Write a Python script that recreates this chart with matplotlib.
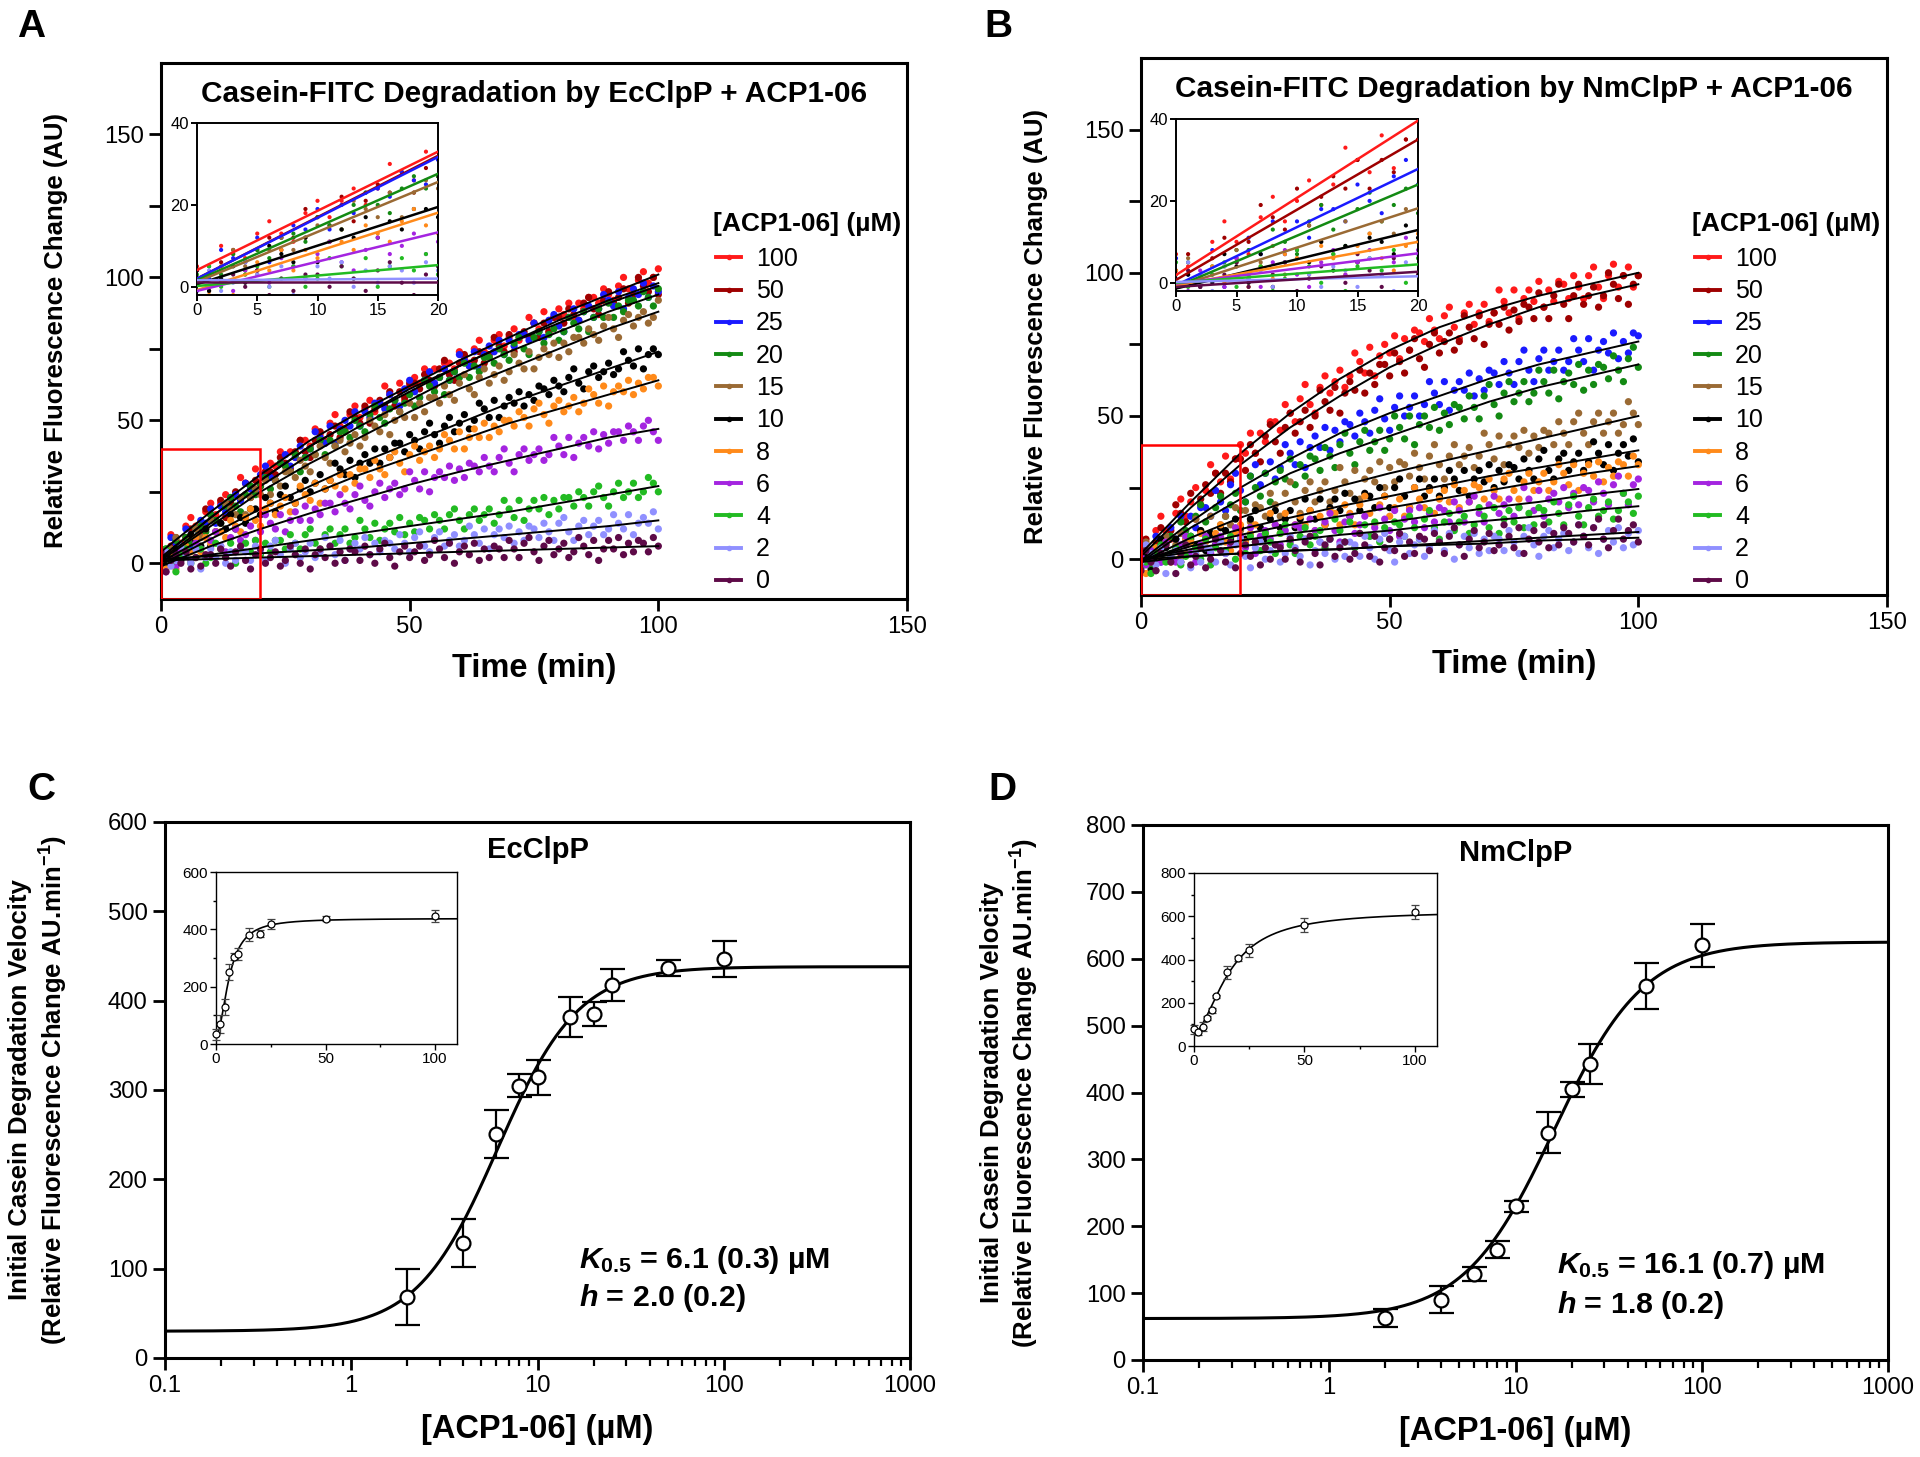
import os
import numpy as np
import matplotlib
matplotlib.use("Agg")
import matplotlib.pyplot as plt
from matplotlib.patches import Rectangle
from matplotlib.lines import Line2D
from matplotlib.ticker import FixedLocator, NullFormatter
from matplotlib import font_manager
from matplotlib.font_manager import FontProperties

plt.rcParams['font.family'] = ['Liberation Sans', 'DejaVu Sans']


def find_narrow():
    for fam, stretch in [('Liberation Sans Narrow', 'normal'), ('Liberation Sans', 'condensed'),
                         ('Liberation Sans', 'semi-condensed')]:
        try:
            p = font_manager.findfont(FontProperties(family=fam, stretch=stretch, weight='bold'),
                                      fallback_to_default=False)
        except Exception:
            continue
        name = os.path.basename(p).lower()
        if 'narrow' in name or 'condensed' in name:
            return fam, stretch
    return None


narrow = find_narrow()
if narrow:
    NFAM, NSTRETCH, NSCALE = narrow[0], narrow[1], 1.0
else:
    NFAM, NSTRETCH, NSCALE = 'Liberation Sans', 'normal', 0.84


def nfont(size, weight='bold'):
    return FontProperties(family=NFAM, stretch=NSTRETCH, weight=weight, size=size * NSCALE)


plt.rcParams['mathtext.fontset'] = 'custom'
plt.rcParams['mathtext.rm'] = '%s:weight=bold:stretch=%s' % (NFAM, NSTRETCH)
plt.rcParams['mathtext.it'] = '%s:style=italic:weight=bold:stretch=%s' % (NFAM, NSTRETCH)
plt.rcParams['mathtext.bf'] = '%s:weight=bold:stretch=%s' % (NFAM, NSTRETCH)

# ---- data: time courses (A: EcClpP, B: NmClpP) ----
time = list(range(0, 101))
fit_time = [0, 10, 20, 30, 40, 50, 60, 70, 80, 90, 100]
conc_labels = ['100', '50', '25', '20', '15', '10', '8', '6', '4', '2', '0']
colors = ['#ff1a1a', '#9e0000', '#1a1aff', '#138a13', '#9a6a34', '#000000',
          '#ff8a1a', '#a424e0', '#22bb22', '#9090ff', '#5e0a48']

ec_100 = [5,3,10,8,7,13,16,13,11,18, 21,17,21,24,20,24,30,28,26,33, 27,32,35,34,39,34,39,37,43,43, 41,47,45,43,49,52,48,46,52,55, 51,54,57,53,56,62,59,57,63,57, 62,65,63,68,63,68,65,70,70,68, 74,72,70,75,78,74,72,78,80,76, 79,82,78,80,86,84,82,88,81,86, 89,87,91,86,91,89,93,93,91,96, 94,92,97,100,96,94,99,102,98,100,103]
ec_50 = [1,-1,6,9,6,9,12,9,12,19, 17,15,22,16,21,25,23,28,23,29, 27,32,32,31,37,35,33,39,43,39, 37,43,46,42,45,48,44,47,53,51, 49,55,49,54,57,55,60,55,60,58, 63,63,61,66,64,62,68,71,66,64, 70,73,69,71,74,70,73,79,76,74, 80,74,79,81,79,84,79,84,81,86, 86,84,89,87,85,91,93,89,87,92, 95,91,93,96,91,94,100,97,95,100,94]
ec_25 = [-1,2,9,7,6,12,6,12,15,14, 19,14,20,18,23,24,22,28,26,25, 31,34,30,29,35,38,34,37,41,37, 40,46,44,42,48,42,47,50,48,53, 48,53,51,56,56,54,59,57,55,61, 64,60,58,64,67,63,65,68,64,67, 73,71,69,74,68,73,76,74,78,73, 78,76,80,80,78,84,81,79,85,87, 83,81,86,89,85,88,90,86,89,94, 92,90,95,89,93,96,94,98,93,97,95]
ec_20 = [2,5,3,8,4,9,7,12,13,11, 17,15,14,20,23,20,18,24,27,24, 27,30,26,29,35,34,32,38,32,37, 40,38,43,38,43,41,46,46,44,50, 48,46,52,55,51,49,54,57,53,56, 59,55,58,64,62,60,65,59,64,67, 65,70,65,69,67,72,72,70,75,73, 71,77,79,75,73,79,81,77,80,82, 78,81,86,84,82,88,81,86,89,86, 91,86,90,88,92,92,90,95,93,90,96]
ec_15 = [1,-1,5,9,5,3,9,12,9,12, 15,11,14,21,19,17,23,17,23,26, 24,29,24,29,27,32,32,30,36,34, 32,38,41,37,35,41,43,39,42,45, 41,44,50,48,46,52,45,50,53,51, 56,51,56,53,58,58,56,62,59,57, 63,66,61,59,65,68,63,66,69,64, 67,73,70,68,74,68,72,75,73,77, 72,77,74,79,79,77,82,80,78,83, 86,82,79,85,87,83,86,88,84,86,92]
ec_10 = [4,-1,2,5,1,4,10,8,6,12, 6,11,14,12,17,12,16,14,19,19, 17,23,21,18,24,27,23,21,26,29, 25,28,31,26,29,35,33,31,36,30, 35,38,35,40,35,40,37,42,42,39, 45,43,40,46,49,45,42,48,51,46, 49,52,47,50,56,54,51,57,51,55, 58,56,60,55,59,57,62,61,59,64, 62,60,65,68,63,61,67,69,65,67, 70,66,68,74,71,69,75,68,73,75,73]
ec_8 = [1,-2,4,-2,3,6,4,9,4,9, 7,11,11,9,15,13,11,16,19,15, 13,19,21,17,20,23,18,21,27,24, 22,28,21,26,29,27,31,26,31,28, 33,33,30,36,33,31,37,39,35,32, 38,41,36,39,41,37,40,45,43,40, 46,40,44,47,44,49,44,48,46,50, 50,48,53,51,48,54,56,52,49,55, 57,53,55,58,53,56,61,59,56,62, 55,60,62,60,64,59,63,61,65,65,62]
ec_6 = [2,-3,1,-1,4,4,1,7,5,2, 8,11,6,4,9,12,8,10,13,8, 11,17,14,12,17,11,15,18,15,20, 15,19,17,21,21,18,24,21,19,24, 27,22,20,25,28,23,26,28,24,26, 32,29,26,32,25,30,32,30,34,29, 33,30,35,34,32,37,34,32,37,40, 35,32,38,40,36,38,40,36,38,44, 41,38,44,37,42,44,41,46,40,45, 42,46,46,43,48,46,43,48,50,46,43]
ec_4 = [3,5,0,-3,3,5,0,2,5,0, 2,7,5,2,7,0,5,7,4,8, 3,7,4,8,8,5,10,7,5,10, 12,7,5,10,12,7,10,12,7,9, 15,12,9,14,8,12,14,11,16,10, 14,11,16,15,12,17,15,12,17,19, 15,12,17,19,15,17,19,14,17,22, 19,16,22,15,19,22,19,23,17,22, 19,23,23,20,25,23,20,25,27,23, 20,25,28,23,25,28,23,25,30,28,25]
ec_2 = [2,4,-1,1,6,3,0,5,-2,2, 5,2,6,0,4,1,5,4,1,6, 4,1,6,8,3,0,5,7,2,4, 7,2,4,9,6,3,8,1,5,7, 5,9,3,7,4,8,7,5,10,7, 4,9,11,6,4,9,11,6,8,10, 6,8,13,10,7,12,5,10,12,9, 13,7,11,8,13,12,9,14,11,8, 14,16,11,8,13,15,10,13,15,10, 12,17,14,12,17,10,14,16,14,18,12]
ec_0 = [4,-3,1,3,0,4,-2,2,-1,3, 3,0,5,2,-1,4,6,1,-2,3, 5,0,2,4,-1,1,6,3,0,5, -2,3,5,2,6,0,4,1,5,4, 1,6,3,0,5,7,2,-1,4,6, 2,4,6,1,3,8,5,2,7,0, 4,6,3,7,1,5,2,6,5,2, 8,5,2,7,9,4,1,6,8,3, 5,7,2,4,9,6,3,8,1,5, 8,5,9,3,7,4,8,7,4,9,6]

nm_100 = [7,4,1,10,15,10,7,16,21,15, 20,25,19,24,33,30,27,36,28,35, 40,37,44,37,44,41,48,48,45,54, 51,48,56,61,54,51,60,64,58,62, 66,60,64,72,69,65,74,64,71,75, 72,78,70,77,73,80,79,76,84,80, 77,85,88,81,77,86,89,82,86,89, 83,86,94,90,86,94,84,91,94,90, 97,88,94,90,97,96,91,99,95,91, 99,102,95,91,99,103,95,99,102,95,99]
nm_50 = [3,7,1,6,11,5,10,19,16,13, 23,14,21,26,23,30,23,30,27,35, 35,31,40,37,34,43,47,41,37,46, 51,44,48,52,46,50,59,55,52,60, 51,58,62,59,66,58,65,61,68,68, 64,72,69,65,73,77,70,67,75,79, 72,76,79,73,76,85,81,77,85,75, 82,86,82,88,80,87,83,89,88,84, 93,88,84,92,96,89,84,92,96,89, 92,95,88,92,100,96,91,99,89,96,99]
nm_25 = [6,2,-1,8,-1,6,11,7,15,7, 15,11,18,18,15,24,20,17,26,30, 24,20,29,33,26,30,34,28,32,40, 37,33,41,32,39,43,39,46,38,45, 41,48,47,43,51,48,44,52,56,49, 45,53,57,50,53,57,50,54,62,58, 54,62,52,59,62,59,65,57,63,59, 66,65,61,69,65,61,69,73,66,62, 70,73,66,69,73,66,69,77,73,69, 77,66,73,76,72,79,70,76,72,79,78]
nm_20 = [-3,5,-3,4,1,8,8,4,13,10, 7,15,19,13,9,18,22,15,19,23, 17,20,29,25,22,30,20,27,31,28, 35,26,33,29,36,35,31,39,36,32, 40,44,37,33,41,45,38,41,45,38, 42,50,46,42,50,40,47,50,46,53, 45,51,47,54,53,49,57,53,49,57, 61,54,50,58,62,55,58,62,55,58, 66,62,58,66,56,62,65,61,68,59, 66,61,68,67,63,71,66,62,70,74,67]
nm_15 = [2,6,-1,-4,4,8,1,5,9,2, 6,14,10,7,15,5,12,15,12,18, 10,17,13,19,18,15,23,19,15,23, 27,20,16,24,27,20,24,27,20,24, 32,27,23,31,21,28,31,27,34,25, 32,27,34,33,29,37,32,28,36,40, 33,28,36,40,33,36,39,32,36,44, 40,35,43,33,40,43,39,45,37,43, 39,45,44,40,48,44,40,48,51,44, 40,48,51,44,48,51,44,47,55,51,47]
nm_10 = [-1,2,-4,0,7,4,0,7,-1,5, 8,5,10,3,9,5,11,10,7,14, 11,7,14,17,11,7,14,17,11,14, 17,11,14,21,17,14,21,12,18,21, 17,23,15,21,17,23,22,18,25,22, 18,25,28,22,18,25,28,22,25,28, 22,25,31,28,24,31,22,28,31,27, 33,25,31,27,33,32,28,35,31,28, 35,38,31,28,35,37,31,34,37,31, 34,41,37,33,40,31,37,40,36,42,34]
nm_8 = [3,-5,1,4,0,6,-1,4,1,7, 6,2,9,6,2,9,12,6,3,9, 12,6,9,12,6,9,16,12,9,16, 7,12,15,12,17,10,15,12,17,16, 12,19,16,12,19,22,16,12,19,22, 15,18,21,15,18,25,21,18,24,16, 21,24,20,26,18,24,20,26,25,21, 28,24,21,28,30,24,21,27,30,24, 27,30,24,27,33,30,26,33,24,30, 33,29,34,27,32,29,34,33,29,36,33]
nm_6 = [1,-2,3,2,-1,6,2,-1,5,8, 2,-1,5,8,2,5,8,2,5,11, 8,4,11,2,8,10,7,12,5,10, 6,12,11,7,14,10,6,13,16,10, 6,13,15,9,12,15,8,11,18,14, 10,17,8,14,17,13,18,11,16,13, 18,17,13,20,17,13,20,22,16,13, 19,22,16,19,21,15,18,25,21,17, 24,15,21,23,20,25,18,23,19,25, 24,20,27,23,19,26,29,23,19,26,28]
nm_4 = [5,-1,-5,2,5,-1,2,4,-2,1, 8,4,0,7,-2,4,6,3,8,0, 6,2,8,6,3,9,6,2,9,12, 5,2,8,11,5,8,10,4,7,14, 10,6,13,4,9,12,8,13,6,11, 7,13,12,8,15,11,7,14,17,11, 7,13,16,10,13,15,9,12,18,15, 11,18,9,14,17,13,18,11,16,12, 18,17,13,20,16,12,19,22,15,12, 18,21,15,17,20,14,17,23,20,16,22]
nm_2 = [-1,5,2,-2,4,-5,1,3,-1,5, -3,2,-1,4,3,-1,6,2,-2,5, 7,1,-3,4,6,0,3,5,-1,2, 8,4,1,7,-2,3,6,2,7,0, 5,1,6,5,1,8,4,0,7,9, 3,-1,6,8,2,5,7,1,4,10, 6,3,9,0,5,8,4,9,2,7, 3,8,7,3,10,6,2,8,11,5, 1,8,10,4,7,9,3,6,12,8, 4,11,2,7,10,6,11,4,9,5,10]
nm_0 = [-4,3,-1,-4,2,5,-1,-5,2,5, -2,1,4,-3,0,7,3,-1,6,-3, 2,5,1,6,-2,4,0,5,4,0, 7,3,-1,6,8,2,-2,5,7,1, 4,6,0,2,9,5,1,8,-1,4, 7,3,9,1,6,2,8,7,3,9, 6,2,8,11,5,1,7,10,4,6, 9,3,5,12,8,4,11,2,7,10, 6,12,4,9,5,11,9,6,12,8, 5,11,14,7,4,10,14,7,10,12,6]

# fitted curves (values at fit_time)
ec_fit_100 = [4, 18, 31, 43, 53, 62, 71, 79, 87, 94, 101]
ec_fit_50 = [2, 16, 29, 41, 51, 61, 69, 77, 85, 92, 98]
ec_fit_25 = [2, 16, 29, 41, 51, 60, 69, 77, 84, 91, 97]
ec_fit_20 = [1.5, 14, 27, 38, 48, 57, 66, 74, 81, 88, 94]
ec_fit_15 = [1, 13, 25, 35, 44, 53, 61, 68, 75, 82, 88]
ec_fit_10 = [0.5, 10, 19, 27, 35, 42, 49, 56, 62, 68, 74]
ec_fit_8 = [-0.5, 8.5, 17, 24, 31, 37, 43, 49, 54, 59, 64]
ec_fit_6 = [-1, 6, 12, 17.5, 22.5, 27.5, 32, 36, 40, 44, 47]
ec_fit_4 = [0.5, 3, 5.5, 8, 10.5, 13, 15.5, 18, 21, 24, 27]
ec_fit_2 = [1.5, 2.5, 3.5, 4.5, 5.5, 7, 8.5, 10, 11.5, 13, 15]
ec_fit_0 = [1, 1.5, 2, 2.5, 3, 3.5, 4, 4.5, 5, 5.5, 6]
nm_fit_100 = [2, 20, 37, 51, 63, 73, 81, 87, 92, 96, 100]
nm_fit_50 = [1, 18, 33, 46, 57, 67, 75, 82, 88, 92, 96]
nm_fit_25 = [-0.5, 13, 25, 35, 44, 51, 57, 63, 68, 72, 76]
nm_fit_20 = [-1, 11, 21, 30, 37, 43, 49, 55, 60, 64, 68]
nm_fit_15 = [-1, 7.5, 14.5, 20.5, 25.5, 30, 34, 38, 42, 46, 50]
nm_fit_10 = [-1, 5.5, 10.5, 14.5, 18.5, 22, 25.5, 29, 32, 35, 38]
nm_fit_8 = [-0.5, 4.5, 8.5, 12, 15, 18, 21, 24, 27, 30, 32.5]
nm_fit_6 = [0, 3.5, 6.5, 9, 11, 13, 15.5, 18, 20, 22.5, 24.5]
nm_fit_4 = [0, 2.5, 4.5, 6.5, 8.5, 10, 12, 13.5, 15, 17, 18.5]
nm_fit_2 = [0, 1, 2, 3, 3.5, 4.5, 5, 5.5, 6.5, 7, 7.5]
nm_fit_0 = [-1, 1, 2, 3, 3.5, 4.5, 5.5, 6.5, 7.5, 8.5, 9.5]

# initial linear fits (inset), value at 0 and at 20 min
ec_lin_start = [4.1, 2, 2, 1.6, 1.2, 0.6, -0.8, -1, 0.2, 1.6, 1.2]
ec_lin_end = [33, 32, 31.7, 27.6, 25.6, 19.5, 18.1, 13.3, 5.3, 2, 1.2]
nm_lin_start = [1.9, 0.7, -0.6, -1, -1, -1.4, -0.6, -0.2, 0, 0.2, -1]
nm_lin_end = [39.6, 35, 27.8, 24, 18.2, 12.9, 10, 7.2, 4.5, 1.6, 2.7]

# ---- data: initial velocity vs [ACP1-06] (C: EcClpP, D: NmClpP) ----
conc = [2, 4, 6, 8, 10, 15, 20, 25, 50, 100]
ec_rate = [68.5, 129, 251, 305, 314, 381.5, 385, 417.5, 436.5, 447]
ec_err = [31, 27, 27, 13, 20, 22.5, 13, 17.5, 9, 20]
ec_rate_zero, ec_err_zero = 34, 20
ec_k05, ec_h, ec_bottom, ec_top = 6.1, 2.0, 30, 438

nm_rate = [63, 90, 129, 165, 230, 340, 405, 443, 559, 620]
nm_err = [14, 20, 10.5, 12.5, 8, 30.5, 11, 30, 34, 32]
nm_rate_zero, nm_err_zero = 77, 20
nm_k05, nm_h, nm_bottom, nm_top = 16.1, 1.8, 62, 625

ec_series = [ec_100, ec_50, ec_25, ec_20, ec_15, ec_10, ec_8, ec_6, ec_4, ec_2, ec_0]
nm_series = [nm_100, nm_50, nm_25, nm_20, nm_15, nm_10, nm_8, nm_6, nm_4, nm_2, nm_0]
ec_fits = [ec_fit_100, ec_fit_50, ec_fit_25, ec_fit_20, ec_fit_15, ec_fit_10,
           ec_fit_8, ec_fit_6, ec_fit_4, ec_fit_2, ec_fit_0]
nm_fits = [nm_fit_100, nm_fit_50, nm_fit_25, nm_fit_20, nm_fit_15, nm_fit_10,
           nm_fit_8, nm_fit_6, nm_fit_4, nm_fit_2, nm_fit_0]

W, H = 1920, 1457
fig = plt.figure(figsize=(W / 100, H / 100), dpi=100)


def box(l, t, r, b):
    return [l / W, 1 - b / H, (r - l) / W, (b - t) / H]


def main_style(ax):
    for s in ax.spines.values():
        s.set_linewidth(2.2)
    ax.tick_params(which='both', direction='out', length=8.5, width=2, pad=4)
    for lab in ax.get_xticklabels() + ax.get_yticklabels():
        lab.set_fontproperties(nfont(20.5, 'normal'))


def inset_style(ax, lw, size):
    for s in ax.spines.values():
        s.set_linewidth(lw)
    ax.tick_params(which='major', direction='out', length=4, width=lw, labelsize=size, pad=2)
    ax.tick_params(which='minor', direction='out', length=2.5, width=lw)


def hill(x, bottom, top, k, h):
    x = np.asarray(x, dtype=float)
    return bottom + (top - bottom) * x ** h / (k ** h + x ** h)


def time_panel(rect, inset_rect, series, fits, lin0, lin1, title, legend_x):
    ax = fig.add_axes(box(*rect))
    for ys, c in zip(series, colors):
        ax.scatter(time, ys, s=27, color=c, edgecolors='none', zorder=2)
    for f in fits:
        ax.plot(fit_time, f, color='black', lw=1.4, zorder=3)
    ax.set_xlim(0, 150)
    ax.set_ylim(-12.5, 175)
    ax.set_xticks([0, 50, 100, 150])
    ax.set_yticks([0, 50, 100, 150])
    ax.yaxis.set_minor_locator(FixedLocator([25, 75, 125]))
    main_style(ax)
    ax.add_patch(Rectangle((0, -12.5), 20, 52.5, fill=False, ec='#ff0000', lw=1.8, zorder=4))
    ax.set_xlabel('Time (min)', fontproperties=nfont(28))
    ax.xaxis.set_label_coords(0.5, -0.10)
    ax.set_ylabel('Relative Fluorescence Change (AU)', fontsize=18.5, fontweight='bold')
    ax.yaxis.set_label_coords(-0.125, 0.5)
    ax.text(0.5, 0.942, title, transform=ax.transAxes, ha='center', va='center',
            fontproperties=nfont(25.5))
    fig.text(legend_x / W, 1 - 224 / H, '[ACP1-06] (µM)', fontsize=19, fontweight='bold',
             ha='left', va='center')
    handles = [Line2D([], [], color=c, lw=2.8, marker='o', ms=3) for c in colors]
    ax.legend(handles, conc_labels, loc='upper left',
              bbox_to_anchor=((legend_x + 3) / W, 1 - 247 / H),
              bbox_transform=fig.transFigure, frameon=False, fontsize=18,
              handlelength=1.0, handletextpad=0.6, labelspacing=0.33,
              borderpad=0, borderaxespad=0)

    axi = fig.add_axes(box(*inset_rect))
    for ys, c in zip(series, colors):
        axi.scatter(time, ys, s=9, color=c, edgecolors='none', zorder=2)
    for a, b, c in zip(lin0, lin1, colors):
        axi.plot([0, 20], [a, b], color=c, lw=1.8, zorder=3)
    axi.set_xlim(0, 20)
    axi.set_ylim(-2, 40)
    axi.set_xticks([0, 5, 10, 15, 20])
    axi.set_yticks([0, 20, 40])
    inset_style(axi, 1.4, 12)
    return ax


def rate_panel(rect, inset_rect, rate, err, rate0, err0, bottom, top, k, h, ymax, title, ktext, htext, txt_xy):
    ax = fig.add_axes(box(*rect))
    xs = np.logspace(-1, 3, 500)
    ax.plot(xs, hill(xs, bottom, top, k, h), color='black', lw=2.2, zorder=2)
    ax.errorbar(conc, rate, yerr=err, fmt='o', ms=10, mfc='white', mec='black', mew=1.6,
                ecolor='black', elinewidth=1.6, capsize=9, capthick=1.6, zorder=3)
    ax.set_xscale('log')
    ax.set_xlim(0.1, 1000)
    ax.set_ylim(0, ymax)
    ax.set_xticks([0.1, 1, 10, 100, 1000])
    ax.set_xticklabels(['0.1', '1', '10', '100', '1000'])
    ax.xaxis.set_minor_formatter(NullFormatter())
    ax.set_yticks(np.arange(0, ymax + 1, 100))
    main_style(ax)
    ax.tick_params(which='minor', length=5.5, width=1.6)
    ax.set_xlabel('[ACP1-06] (µM)', fontproperties=nfont(28))
    ax.xaxis.set_label_coords(0.5, -0.105)
    ax.set_ylabel('Initial Casein Degradation Velocity\n'
                  '(Relative Fluorescence Change AU.min$^{-1}$)',
                  fontsize=18.5, fontweight='bold', linespacing=1.2)
    ax.text(0.5, 0.948, title, transform=ax.transAxes, ha='center', va='center',
            fontproperties=nfont(25))
    ax.text(txt_xy[0], txt_xy[1], ktext, transform=ax.transAxes, ha='left', va='center',
            fontproperties=nfont(26))
    ax.text(txt_xy[0], txt_xy[2], htext, transform=ax.transAxes, ha='left', va='center',
            fontproperties=nfont(26))

    axi = fig.add_axes(box(*inset_rect))
    xl = np.linspace(0, 110, 400)
    axi.plot(xl, hill(xl, bottom, top, k, h), color='black', lw=1.2, zorder=2)
    axi.errorbar([0] + conc, [rate0] + rate, yerr=[err0] + err, fmt='o', ms=5,
                 mfc='white', mec='black', mew=0.9, ecolor='#444444', elinewidth=0.9,
                 capsize=3, capthick=0.9, zorder=3, clip_on=False)
    axi.set_xlim(0, 110)
    axi.set_ylim(0, ymax)
    axi.set_xticks([0, 50, 100])
    axi.xaxis.set_minor_locator(FixedLocator([25, 75]))
    axi.set_yticks(np.arange(0, ymax + 1, 200))
    axi.yaxis.set_minor_locator(FixedLocator(np.arange(100, ymax, 200)))
    inset_style(axi, 1.0, 11)
    return ax


ax_a = time_panel((161, 63, 907, 599), (197, 123, 438, 295), ec_series, ec_fits,
                  ec_lin_start, ec_lin_end, 'Casein-FITC Degradation by EcClpP + ACP1-06', 713)
ax_b = time_panel((1141, 58, 1887, 595), (1176, 119, 1418, 291), nm_series, nm_fits,
                  nm_lin_start, nm_lin_end, 'Casein-FITC Degradation by NmClpP + ACP1-06', 1692)

ax_c = rate_panel((165, 822, 910, 1358), (216, 872, 457, 1044), ec_rate, ec_err,
                  ec_rate_zero, ec_err_zero, ec_bottom, ec_top, ec_k05, ec_h, 600, 'EcClpP',
                  r'$K_{\mathit{0.5}}$ = 6.1 (0.3) µM', r'$h$ = 2.0 (0.2)', (0.556, 0.182, 0.112))
ax_c.yaxis.set_label_coords(-0.128, 0.5)
ax_d = rate_panel((1143, 825, 1888, 1360), (1194, 873, 1437, 1046), nm_rate, nm_err,
                  nm_rate_zero, nm_err_zero, nm_bottom, nm_top, nm_k05, nm_h, 800, 'NmClpP',
                  r'$K_{\mathit{0.5}}$ = 16.1 (0.7) µM', r'$h$ = 1.8 (0.2)', (0.556, 0.177, 0.103))
ax_d.yaxis.set_label_coords(-0.137, 0.5)

for letter, x, y in [('A', 31, 27), ('B', 998, 27), ('C', 41, 790), ('D', 1002, 790)]:
    fig.text(x / W, 1 - y / H, letter, fontsize=28, fontweight='bold', ha='center', va='center')

fig.savefig('out.png', dpi=100)
